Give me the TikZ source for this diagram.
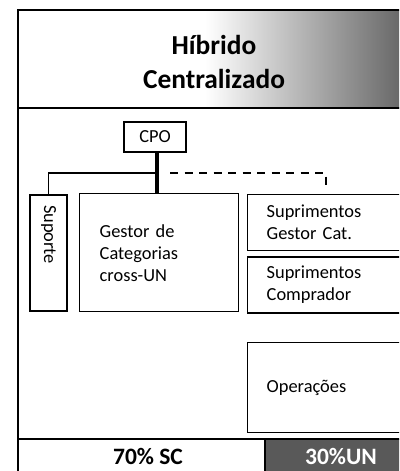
\documentclass[tikz,border=0pt]{standalone}
\usepackage{fontspec}
\setmainfont{Carlito}
\usetikzlibrary{positioning}

\newcommand{\bodyfont}{\fontsize{18.4}{22}\selectfont}
\newcommand{\titlefont}{\fontsize{27.4}{34}\selectfont\bfseries}
\newcommand{\sharefont}{\fontsize{23.5}{28}\selectfont\bfseries}

\tikzset{
  box/.style={draw, line width=1.4pt, fill=white, inner xsep=19pt, align=left},
  link/.style={line width=1.4pt},
}

\begin{document}
\begin{tikzpicture}[x=1pt, y=-1pt, font=\bodyfont]
      \useasboundingbox (0,0) rectangle (399,471);
      \clip (0,0) rectangle (399,471);

      % frame, header and share bar
      \fill[white] (18,10) rectangle (206,108);
      \shade[left color=white, right color=black!62] (205,10) rectangle (410,108);
      \fill[black!65] (265,439) rectangle (410,480);
      \draw[line width=2pt] (18,10) rectangle (410,480);
      \draw[line width=1.5pt] (18,108) -- (410,108);
      \draw[line width=1.5pt] (18,439) -- (410,439);
      \draw[line width=1.5pt] (265,439) -- (265,480);

      \node (hdr) at (214,62) [align=center, font=\titlefont] {Híbrido\\Centralizado};

      \node (cpo) [box, inner xsep=0pt, minimum width=62pt, minimum height=30pt] at (155,137) {CPO};
      \node (sup) [box, rotate=-90, inner xsep=10pt, text width=96pt, minimum height=37pt] at (48.5,253) {Suporte};
      \node (gcat) [box, anchor=north west, inner xsep=20pt, text width=119pt, minimum height=118pt] at (79,193) {Gestor de\\Categorias\\cross-UN};

      \node (sgc) [box, anchor=north west, text width=125pt, minimum height=56pt] at (247,194) {Suprimentos\\Gestor Cat.};
      \node (scomp) [box, below=5pt of sgc.south west, anchor=north west, text width=125pt, minimum height=56pt] {Suprimentos\\Comprador};
      \node (ops) [box, anchor=north west, text width=125pt, minimum height=90pt] at (247,342) {Operações};

      \node (sc) at (148,456) [font=\sharefont] {70\% SC};
      \node (un) at (341,456) [font=\sharefont, text=white] {30\%UN};

      \coordinate (jn) at (157,173);
      \coordinate (dend) at (326,186);

      \draw[line width=4pt] (cpo.south -| jn) -- (jn |- gcat.north);
      \draw[link] (jn) -| (sup.west);
      \draw[line width=2pt, dash pattern=on 8pt off 6.5pt] ([xshift=13pt]jn) -| (dend);

\end{tikzpicture}
\end{document}
